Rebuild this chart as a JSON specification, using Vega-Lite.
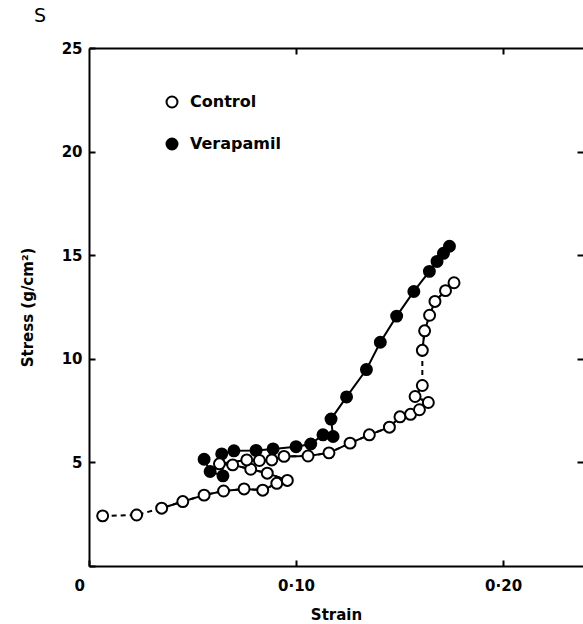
{
  "$schema": "https://vega.github.io/schema/vega-lite/v6.json",
  "autosize": {"type": "none"},
  "width": 494,
  "height": 518,
  "padding": {"left": 89, "top": 48, "right": 0, "bottom": 58},
  "background": "white",
  "config": {
    "view": {"stroke": null},
    "axis": {
      "grid": false,
      "domainColor": "black",
      "domainWidth": 2,
      "tickColor": "black",
      "tickWidth": 2,
      "labelColor": "black",
      "titleColor": "black",
      "labelFont": "DejaVu Sans",
      "titleFont": "DejaVu Sans",
      "labelFontWeight": "bold",
      "titleFontWeight": "bold",
      "labelFontSize": 15,
      "titleFontSize": 15
    },
    "legend": {
      "labelFont": "DejaVu Sans",
      "labelFontWeight": "bold",
      "labelFontSize": 16,
      "labelColor": "black"
    }
  },
  "title": {
    "text": "S",
    "anchor": "start",
    "frame": "group",
    "dx": -55,
    "font": "DejaVu Sans",
    "fontSize": 19,
    "fontWeight": "normal",
    "color": "black",
    "offset": 15
  },
  "data": {
    "values": [
      {"group": "Verapamil", "branch": "verapamil", "seq": 1, "strain": 0.0556, "stress": 5.15},
      {"group": "Verapamil", "branch": "verapamil", "seq": 2, "strain": 0.0585, "stress": 4.56},
      {"group": "Verapamil", "branch": "verapamil", "seq": 3, "strain": 0.0647, "stress": 4.35},
      {"group": "Verapamil", "branch": "verapamil", "seq": 4, "strain": 0.0641, "stress": 5.41},
      {"group": "Verapamil", "branch": "verapamil", "seq": 5, "strain": 0.0700, "stress": 5.56},
      {"group": "Verapamil", "branch": "verapamil", "seq": 6, "strain": 0.0807, "stress": 5.58},
      {"group": "Verapamil", "branch": "verapamil", "seq": 7, "strain": 0.0889, "stress": 5.65},
      {"group": "Verapamil", "branch": "verapamil", "seq": 8, "strain": 0.1000, "stress": 5.76},
      {"group": "Verapamil", "branch": "verapamil", "seq": 9, "strain": 0.1071, "stress": 5.89},
      {"group": "Verapamil", "branch": "verapamil", "seq": 10, "strain": 0.1130, "stress": 6.33},
      {"group": "Verapamil", "branch": "verapamil", "seq": 11, "strain": 0.1179, "stress": 6.25},
      {"group": "Verapamil", "branch": "verapamil", "seq": 12, "strain": 0.1169, "stress": 7.09},
      {"group": "Verapamil", "branch": "verapamil", "seq": 13, "strain": 0.1244, "stress": 8.16},
      {"group": "Verapamil", "branch": "verapamil", "seq": 14, "strain": 0.1340, "stress": 9.48},
      {"group": "Verapamil", "branch": "verapamil", "seq": 15, "strain": 0.1407, "stress": 10.80},
      {"group": "Verapamil", "branch": "verapamil", "seq": 16, "strain": 0.1486, "stress": 12.06},
      {"group": "Verapamil", "branch": "verapamil", "seq": 17, "strain": 0.1569, "stress": 13.25},
      {"group": "Verapamil", "branch": "verapamil", "seq": 18, "strain": 0.1644, "stress": 14.22},
      {"group": "Verapamil", "branch": "verapamil", "seq": 19, "strain": 0.1681, "stress": 14.70},
      {"group": "Verapamil", "branch": "verapamil", "seq": 20, "strain": 0.1712, "stress": 15.09},
      {"group": "Verapamil", "branch": "verapamil", "seq": 21, "strain": 0.1741, "stress": 15.43},
      {"group": "Control", "branch": "approach", "seq": 1, "strain": 0.0066, "stress": 2.42},
      {"group": "Control", "branch": "approach", "seq": 2, "strain": 0.0230, "stress": 2.46},
      {"group": "Control", "branch": "loading", "seq": 3, "strain": 0.0351, "stress": 2.79},
      {"group": "Control", "branch": "loading", "seq": 4, "strain": 0.0453, "stress": 3.11},
      {"group": "Control", "branch": "loading", "seq": 5, "strain": 0.0556, "stress": 3.42},
      {"group": "Control", "branch": "loading", "seq": 6, "strain": 0.0650, "stress": 3.62},
      {"group": "Control", "branch": "loading", "seq": 7, "strain": 0.0749, "stress": 3.72},
      {"group": "Control", "branch": "loading", "seq": 8, "strain": 0.0839, "stress": 3.66},
      {"group": "Control", "branch": "loading", "seq": 9, "strain": 0.0907, "stress": 3.99},
      {"group": "Control", "branch": "loading", "seq": 10, "strain": 0.0958, "stress": 4.13},
      {"group": "Control", "branch": "loading", "seq": 11, "strain": 0.0861, "stress": 4.48},
      {"group": "Control", "branch": "loading", "seq": 12, "strain": 0.0781, "stress": 4.67},
      {"group": "Control", "branch": "loading", "seq": 13, "strain": 0.0694, "stress": 4.88},
      {"group": "Control", "branch": "loading", "seq": 14, "strain": 0.0630, "stress": 4.93},
      {"group": "Control", "branch": "loading", "seq": 15, "strain": 0.0762, "stress": 5.12},
      {"group": "Control", "branch": "loading", "seq": 16, "strain": 0.0823, "stress": 5.09},
      {"group": "Control", "branch": "loading", "seq": 17, "strain": 0.0883, "stress": 5.12},
      {"group": "Control", "branch": "loading", "seq": 18, "strain": 0.0942, "stress": 5.29},
      {"group": "Control", "branch": "loading", "seq": 19, "strain": 0.1058, "stress": 5.31},
      {"group": "Control", "branch": "loading", "seq": 20, "strain": 0.1159, "stress": 5.46},
      {"group": "Control", "branch": "loading", "seq": 21, "strain": 0.1261, "stress": 5.93},
      {"group": "Control", "branch": "loading", "seq": 22, "strain": 0.1354, "stress": 6.33},
      {"group": "Control", "branch": "loading", "seq": 23, "strain": 0.1451, "stress": 6.70},
      {"group": "Control", "branch": "loading", "seq": 24, "strain": 0.1502, "stress": 7.20},
      {"group": "Control", "branch": "loading", "seq": 25, "strain": 0.1553, "stress": 7.32},
      {"group": "Control", "branch": "loading", "seq": 26, "strain": 0.1596, "stress": 7.54},
      {"group": "Control", "branch": "loading", "seq": 27, "strain": 0.1639, "stress": 7.89},
      {"group": "Control", "branch": "loading", "seq": 28, "strain": 0.1575, "stress": 8.18},
      {"group": "Control", "branch": "loading", "seq": 29, "strain": 0.1610, "stress": 8.71},
      {"group": "Control", "branch": "stretch", "seq": 30, "strain": 0.1610, "stress": 10.41},
      {"group": "Control", "branch": "stretch", "seq": 31, "strain": 0.1621, "stress": 11.35},
      {"group": "Control", "branch": "stretch", "seq": 32, "strain": 0.1645, "stress": 12.10},
      {"group": "Control", "branch": "stretch", "seq": 33, "strain": 0.1671, "stress": 12.77},
      {"group": "Control", "branch": "stretch", "seq": 34, "strain": 0.1722, "stress": 13.29},
      {"group": "Control", "branch": "stretch", "seq": 35, "strain": 0.1763, "stress": 13.67}
    ]
  },
  "resolve": {"axis": {"x": "independent", "y": "independent"}},
  "layer": [
    {
      "transform": [{"filter": "datum.group == 'Control'"}],
      "mark": {"type": "line", "color": "black", "strokeWidth": 2, "strokeDash": [5, 4]},
      "encoding": {
        "x": {
          "field": "strain", "type": "quantitative",
          "scale": {"domain": [0, 0.2386], "nice": false, "zero": false},
          "axis": null
        },
        "y": {
          "field": "stress", "type": "quantitative",
          "scale": {"domain": [0, 25], "nice": false},
          "axis": null
        },
        "order": {"field": "seq", "type": "quantitative"}
      }
    },
    {
      "transform": [{"filter": "datum.branch != 'approach'"}],
      "mark": {"type": "line", "color": "black", "strokeWidth": 2},
      "encoding": {
        "x": {
          "field": "strain", "type": "quantitative",
          "axis": {
            "orient": "bottom",
            "title": "Strain",
            "values": [0, 0.1, 0.2],
            "labelExpr": "datum.value == 0 ? '0' : replace(format(datum.value, '.2f'), '.', '·')",
            "labelOffset": {"condition": {"test": "datum.value == 0", "value": -15}, "value": 0},
            "tickSize": -6,
            "labelPadding": 18,
            "titlePadding": 14
          }
        },
        "y": {
          "field": "stress", "type": "quantitative",
          "axis": {
            "orient": "left",
            "title": "Stress (g/cm²)",
            "values": [0, 5, 10, 15, 20, 25],
            "labelExpr": "datum.value == 0 ? '' : datum.label",
            "tickSize": -6,
            "labelPadding": 13,
            "titlePadding": 26
          }
        },
        "detail": {"field": "branch"},
        "order": {"field": "seq", "type": "quantitative"}
      }
    },
    {
      "mark": {"type": "point", "shape": "circle", "filled": true, "size": 120, "stroke": "black", "strokeWidth": 2, "opacity": 1},
      "encoding": {
        "x": {
          "field": "strain", "type": "quantitative",
          "axis": {"orient": "top", "values": [0.1, 0.2], "labels": false, "title": null, "tickSize": -6}
        },
        "y": {
          "field": "stress", "type": "quantitative",
          "axis": {"orient": "right", "values": [5, 10, 15, 20], "labels": false, "title": null, "domain": false, "tickSize": -6}
        },
        "fill": {
          "field": "group", "type": "nominal",
          "scale": {"domain": ["Control", "Verapamil"], "range": ["white", "black"]},
          "legend": {
            "title": null,
            "orient": "none",
            "legendX": 75,
            "legendY": 46,
            "padding": 0,
            "symbolType": "circle",
            "symbolSize": 120,
            "symbolStrokeColor": "black",
            "symbolStrokeWidth": 2,
            "symbolOpacity": 1,
            "labelOffset": 10,
            "rowPadding": 22
          }
        }
      }
    }
  ]
}
